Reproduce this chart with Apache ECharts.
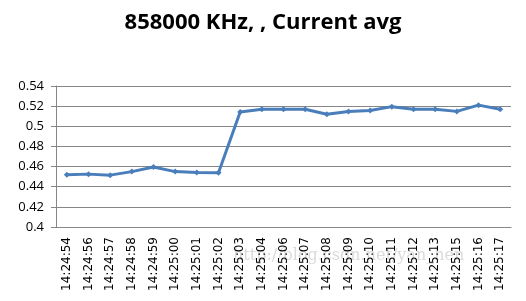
<!DOCTYPE html>
<html><head><meta charset="utf-8">
<script src="https://cdn.jsdelivr.net/npm/echarts@6/dist/echarts.min.js"></script>
<style>html,body{margin:0;padding:0;background:#fff}#c{width:526px;height:301px}</style>
</head><body><div id="c"></div>
<script>
const categories = ["14:24:54","14:24:56","14:24:57","14:24:58","14:24:59","14:25:00","14:25:01","14:25:02","14:25:03","14:25:04","14:25:06","14:25:07","14:25:08","14:25:09","14:25:10","14:25:11","14:25:12","14:25:13","14:25:15","14:25:16","14:25:17"];
const currentAvg = [0.452,0.4525,0.4515,0.455,0.4595,0.455,0.454,0.4538,0.5142,0.517,0.517,0.517,0.512,0.5146,0.5156,0.5195,0.517,0.517,0.5148,0.521,0.517];
const yTicks = [0.4,0.42,0.44,0.46,0.48,0.5,0.52,0.54];
const titleText = "858000 KHz, , Current avg";

const chart = echarts.init(document.getElementById('c'));
chart.setOption({
  animation:false,
  backgroundColor:'#fff',
  title:{text:titleText,left:'center',top:7,textStyle:{fontFamily:'Open Sans',fontWeight:'bold',fontSize:22,color:'#000'}},
  grid:{left:56,right:15,top:86,bottom:74},
  xAxis:{type:'category',data:categories,boundaryGap:true,
    axisLine:{lineStyle:{color:'#868686'}},
    axisTick:{interval:9,length:5,lineStyle:{color:'#868686'}},
    axisLabel:{rotate:90,interval:0,fontFamily:'DejaVu Sans',fontSize:12,color:'#000',margin:10}},
  yAxis:{type:'value',min:yTicks[0],max:yTicks[yTicks.length-1],interval:0.02,
    axisLine:{show:true,lineStyle:{color:'#868686'}},
    axisTick:{show:true,length:5,lineStyle:{color:'#868686'}},
    splitLine:{lineStyle:{color:'#868686'}},
    axisLabel:{fontFamily:'Open Sans',fontSize:13,color:'#000',margin:12,formatter:v=>String(+v.toFixed(2))}},
  series:[{type:'line',data:currentAvg,symbol:'diamond',symbolSize:6,
    lineStyle:{color:'#4a7ebb',width:3},itemStyle:{color:'#4a7ebb'}}],
  graphic:[{type:'text',left:233,top:248,style:{text:'http://blog.csdn.net/yan_hen',fill:'rgba(150,150,150,0.35)',font:'16px "DejaVu Serif"'}}]
});
</script></body></html>
